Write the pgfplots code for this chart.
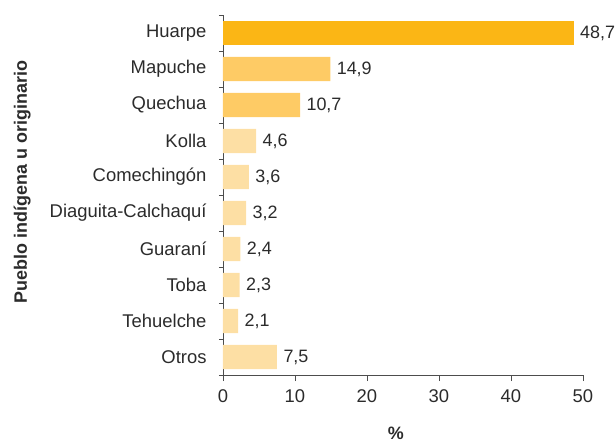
\documentclass[border=0pt]{standalone}
\usepackage{pgfplots}
\pgfplotsset{compat=1.18}
\usepackage{fontspec}
\setmainfont{Liberation Sans}
\definecolor{axc}{HTML}{4D4D4D}
\definecolor{txt}{HTML}{2B2B2B}
\definecolor{c1}{HTML}{FBB615}
\definecolor{c2}{HTML}{FECB65}
\definecolor{c3}{HTML}{FDDFA4}
\begin{document}
\begin{tikzpicture}
\useasboundingbox (-223bp,-69bp) rectangle (393bp,375bp);
\begin{axis}[
  at={(0,0)}, anchor=south west,
  scale only axis, width=360bp, height=360bp,
  xmin=0, xmax=50, ymin=-0.5, ymax=9.5,
  y dir=reverse,
  axis lines*=left,
  axis line style={axc, line width=0.9bp},
  every tick/.style={axc, line width=0.9bp},
  xtick={0,10,20,30,40,50},
  ytick={0,...,9},
  yticklabels={Huarpe,Mapuche,Quechua,Kolla,Comechingón,Diaguita-Calchaquí,Guaraní,Toba,Tehuelche,Otros},
  minor ytick={-0.5,0.5,...,9.5},
  major tick length=6bp,
  minor tick length=4bp,
  tick align=outside,
  major y tick style={draw=none},
  tick label style={font=\fontsize{18.5}{21}\selectfont, text=txt},
  yticklabel style={xshift=-7bp},
  xticklabel style={yshift=-5bp},
  /pgf/number format/assume math mode=true,
  xbar, bar width=0.67, bar shift=0pt,
  point meta=x,
  nodes near coords,
  nodes near coords style={font=\fontsize{18}{21}\selectfont, text=txt, anchor=west, xshift=3bp,
    /pgf/number format/.cd, use comma, fixed, fixed zerofill, precision=1, assume math mode=true},
  clip=false,
  ylabel={\bfseries Pueblo indígena u originario},
  ylabel style={at={(axis description cs:-0.558,0.536)}, anchor=center, font=\fontsize{18}{21}\selectfont, text=txt},
  xlabel={\bfseries \%},
  xlabel style={at={(axis description cs:0.48,-0.163)}, anchor=center, font=\fontsize{18}{21}\selectfont, text=txt},
]
\addplot[fill=c1, draw=none] coordinates {(48.7,0)};
\addplot[fill=c2, draw=none] coordinates {(14.9,1) (10.7,2)};
\addplot[fill=c3, draw=none] coordinates {(4.6,3) (3.6,4) (3.2,5) (2.4,6) (2.3,7) (2.1,8) (7.5,9)};
\end{axis}
\end{tikzpicture}
\end{document}
